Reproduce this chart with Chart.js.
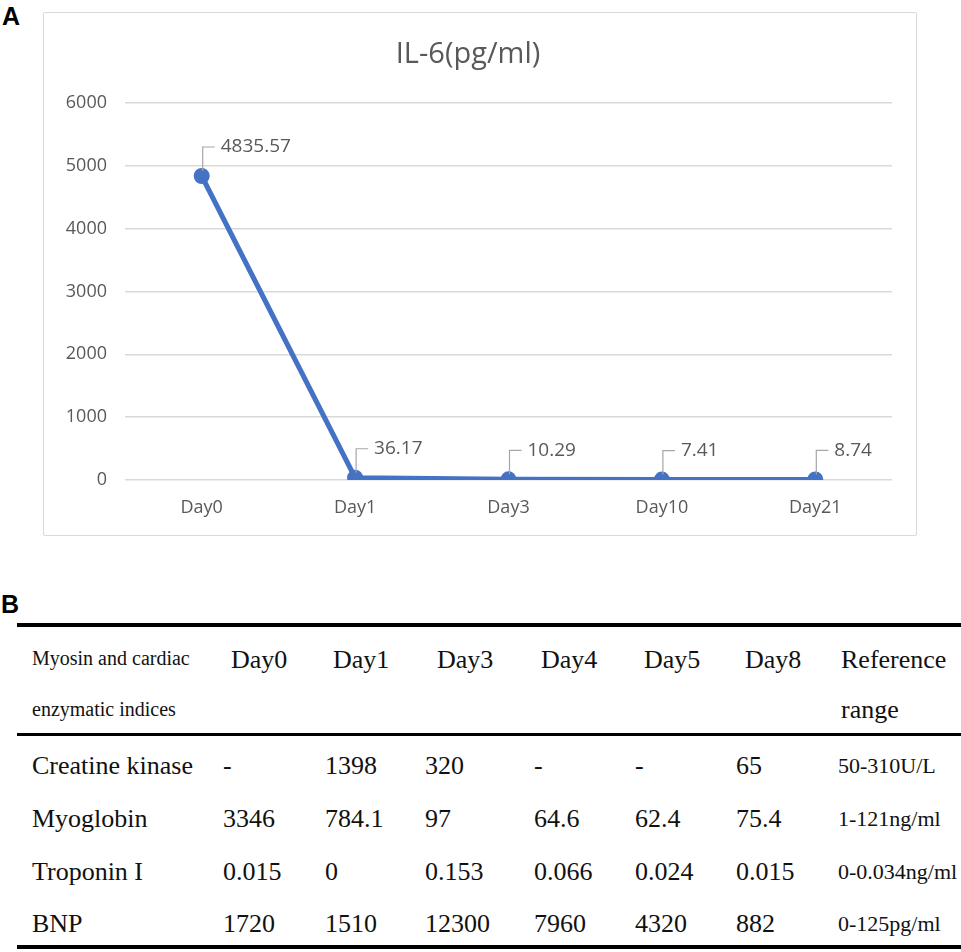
<!DOCTYPE html>
<html>
<head>
  <title>IL-6 and cardiac indices</title>
  <script src="https://cdn.jsdelivr.net/npm/chart.js"></script>
  <style>
    body { margin: 0; background: #fff; width: 961px; height: 952px; overflow: hidden; position: relative; }
    .panel-tag { position: absolute; font: bold 25px "Liberation Sans", Arial, sans-serif; line-height: 1; color: #000; }
    #chartBox { position: absolute; left: 43px; top: 12px; width: 874px; height: 524px; border: 1px solid #d9d9d9; border-radius: 2px; box-sizing: border-box; }
    .rule { position: absolute; left: 17px; right: 0; background: #000; }
    .cell { position: absolute; font-family: "Liberation Serif", "Times New Roman", serif; color: #111; white-space: nowrap; line-height: 1.2; transform: translateY(-50%); }
  </style>
</head>
<body>
  <div class="panel-tag" style="left:2px; top:4px;">A</div>
  <div id="chartBox"><canvas id="il6Chart"></canvas></div>
  <div class="panel-tag" style="left:1px; top:592px;">B</div>
  <div id="table"></div>
  <script>
    // panel A
    const days = ['Day0', 'Day1', 'Day3', 'Day10', 'Day21'];
    const il6 = [4835.57, 36.17, 10.29, 7.41, 8.74];

    // panel B
    const tableDays = ['Day0', 'Day1', 'Day3', 'Day4', 'Day5', 'Day8'];
    const indices = ['Creatine kinase', 'Myoglobin', 'Troponin I', 'BNP'];
    const creatineKinase = ['-', '1398', '320', '-', '-', '65'];
    const myoglobin = ['3346', '784.1', '97', '64.6', '62.4', '75.4'];
    const troponinI = ['0.015', '0', '0.153', '0.066', '0.024', '0.015'];
    const bnp = ['1720', '1510', '12300', '7960', '4320', '882'];
    const referenceRange = ['50-310U/L', '1-121ng/ml', '0-0.034ng/ml', '0-125pg/ml'];

    const gray = '#595959';

    // value labels with little leader lines, like Excel callouts
    const calloutLabels = {
      id: 'calloutLabels',
      afterDatasetsDraw(chart) {
        const ctx = chart.ctx;
        const meta = chart.getDatasetMeta(0);
        const values = chart.data.datasets[0].data;
        ctx.save();
        ctx.font = '19px "Open Sans"';
        ctx.fillStyle = gray;
        ctx.strokeStyle = '#a6a6a6';
        ctx.lineWidth = 1.2;
        ctx.textBaseline = 'middle';
        meta.data.forEach((pt, i) => {
          const lift = 29;
          ctx.beginPath();
          ctx.moveTo(pt.x + 1, pt.y - 5);
          ctx.lineTo(pt.x + 1, pt.y - lift);
          ctx.lineTo(pt.x + 13, pt.y - lift);
          ctx.stroke();
          ctx.fillText(String(values[i]), pt.x + 19, pt.y - lift);
        });
        ctx.restore();
      }
    };

    new Chart(document.getElementById('il6Chart'), {
      type: 'line',
      data: {
        labels: days,
        datasets: [{
          data: il6,
          borderColor: '#4472c4',
          backgroundColor: '#4472c4',
          borderWidth: 5,
          pointRadius: 5.5,
          pointBackgroundColor: '#4472c4',
          pointBorderColor: '#4472c4',
          tension: 0,
          fill: false
        }]
      },
      options: {
        responsive: true,
        maintainAspectRatio: false,
        animation: false,
        layout: { padding: { top: 0, left: 0, right: 24, bottom: 0 } },
        plugins: {
          legend: { display: false },
          tooltip: { enabled: false },
          title: {
            display: true,
            text: 'IL-6(pg/ml)',
            color: gray,
            font: { family: 'Open Sans', size: 29, weight: 'normal' },
            padding: { top: 24, bottom: 31 }
          }
        },
        scales: {
          x: {
            offset: true,
            grid: { display: false, drawTicks: false },
            border: { display: false },
            ticks: { color: gray, font: { family: 'Open Sans', size: 18 }, padding: 17 },
            afterFit: s => { s.height = 55; }
          },
          y: {
            min: 0,
            max: 6000,
            grid: { color: '#d9d9d9', lineWidth: 1.5, drawTicks: false },
            border: { display: false },
            ticks: {
              stepSize: 1000,
              color: gray,
              font: { family: 'Open Sans', size: 18 },
              padding: 18,
              callback: v => String(v)
            },
            afterFit: s => { s.width = 81; }
          }
        }
      },
      plugins: [calloutLabels]
    });

    // table of panel B
    const table = document.getElementById('table');
    function addCell(text, x, y, size) {
      const d = document.createElement('div');
      d.className = 'cell';
      d.textContent = text;
      d.style.left = x + 'px';
      d.style.top = y + 'px';
      d.style.fontSize = size + 'px';
      table.appendChild(d);
    }
    function addRule(y, h) {
      const r = document.createElement('div');
      r.className = 'rule';
      r.style.top = y + 'px';
      r.style.height = h + 'px';
      table.appendChild(r);
    }
    addRule(623, 4);
    addRule(733, 3);
    addRule(945, 4);

    const headX = [231, 333, 437, 541, 644, 745];
    const cellX = [223, 325, 425, 534, 635, 736];
    addCell('Myosin and cardiac', 32, 658, 20);
    addCell('enzymatic indices', 32, 709, 20);
    tableDays.forEach((d, i) => addCell(d, headX[i], 660, 26));
    addCell('Reference', 841, 660, 26);
    addCell('range', 841, 710, 26);

    const rows = [creatineKinase, myoglobin, troponinI, bnp];
    const rowY = [766, 819, 872, 924];
    rows.forEach((vals, r) => {
      addCell(indices[r], 32, rowY[r], 26);
      vals.forEach((v, c) => addCell(v, cellX[c], rowY[r], 26));
      addCell(referenceRange[r], 838, rowY[r], 22);
    });
  </script>
</body>
</html>
